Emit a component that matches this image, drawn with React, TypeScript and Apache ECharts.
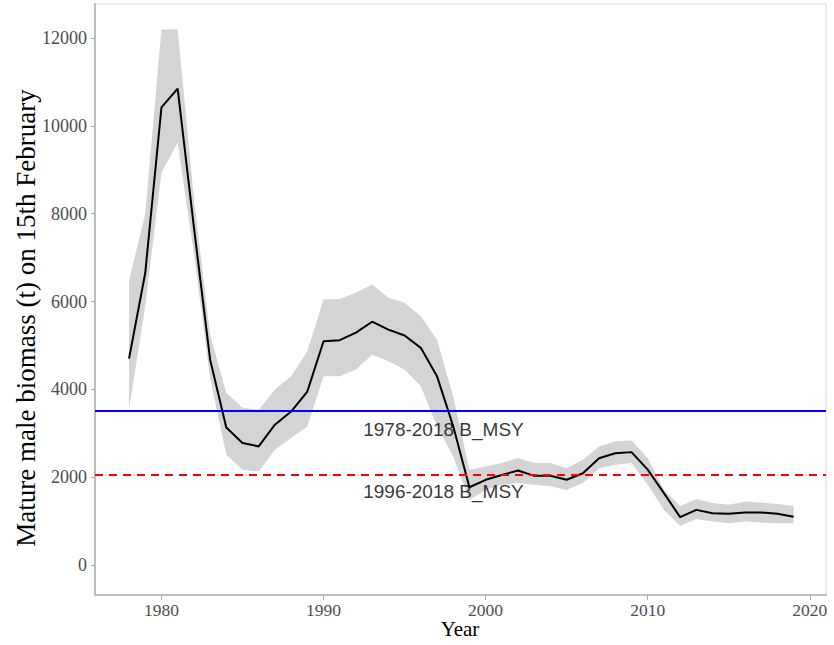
import React, { useEffect, useRef } from "react";
import * as echarts from "echarts";

const years = [1978,1979,1980,1981,1982,1983,1984,1985,1986,1987,1988,1989,1990,1991,1992,1993,1994,1995,1996,1997,1998,1999,2000,2001,2002,2003,2004,2005,2006,2007,2008,2009,2010,2011,2012,2013,2014,2015,2016,2017,2018,2019];
const biomass = [4700,6650,10420,10850,7700,4680,3130,2780,2700,3195,3495,3950,5095,5120,5290,5540,5360,5225,4945,4300,3160,1770,1940,2050,2150,2030,2030,1940,2090,2430,2545,2570,2170,1635,1090,1255,1180,1165,1195,1195,1165,1100];
const lower = [3540,5900,8940,9620,7100,4250,2510,2170,2130,2625,2890,3155,4300,4300,4450,4790,4640,4450,4070,3160,2470,1480,1710,1825,1865,1825,1790,1710,1865,2205,2280,2320,1825,1255,890,1045,990,950,990,965,950,950];
const upper = [6480,8000,12190,12200,8350,5250,3925,3580,3535,3995,4300,4870,6045,6060,6200,6390,6085,5970,5665,5130,3840,2170,2245,2320,2435,2320,2320,2205,2395,2700,2815,2835,2435,1710,1345,1500,1410,1370,1445,1420,1390,1345];
const refValues = [3514, 2065];
const refLabels = ["1978-2018 B_MSY", "1996-2018 B_MSY"];
const refLabelPos = [[1997.4, 3080], [1997.4, 1665]];
const xTicks = [1980, 1990, 2000, 2010, 2020];
const yTicks = [0, 2000, 4000, 6000, 8000, 10000, 12000];
const yTitle = "Mature male biomass (t) on 15th February";
const xTitle = "Year";

export default function App() {
  const ref = useRef<HTMLDivElement>(null);
  useEffect(() => {
    const chart = echarts.init(ref.current!, null, { renderer: "svg" });
    const bandData = years.map((y, i) => [y, lower[i], upper[i]]);
    chart.setOption({
      animation: false,
      backgroundColor: "#fff",
      grid: {
        left: 95, right: 8, top: 4, bottom: 50,
        outerBoundsMode: "none", containLabel: false,
        show: true, borderColor: "#d9d9d9", borderWidth: 1,
      },
      graphic: [
        {
          type: "text",
          x: 26, y: 318,
          rotation: Math.PI / 2,
          style: {
            text: yTitle, align: "center", verticalAlign: "middle",
            fontFamily: "Liberation Serif", fontSize: 27, fill: "#000",
          },
        },
        {
          type: "text",
          x: 460, y: 629,
          style: {
            text: xTitle, align: "center", verticalAlign: "middle",
            fontFamily: "Liberation Serif", fontSize: 21, fill: "#000",
          },
        },
      ],
      xAxis: {
        type: "value", min: 1975.9, max: 2021,
        splitLine: { show: false },
        axisLine: { show: true, onZero: false, lineStyle: { color: "#bdbdbd", width: 2 } },
        axisTick: { show: true, length: 5, customValues: xTicks, lineStyle: { color: "#aaa" } },
        axisLabel: {
          customValues: xTicks, margin: 6, fontFamily: "Liberation Serif", fontSize: 17.5, color: "#4d4d4d",
          formatter: (v: number) => String(v),
        },
      },
      yAxis: {
        type: "value", min: -684, max: 12776,
        splitLine: { show: false },
        axisLine: { show: true, onZero: false, lineStyle: { color: "#bdbdbd", width: 2 } },
        axisTick: { show: true, length: 4, customValues: yTicks, lineStyle: { color: "#aaa" } },
        axisLabel: {
          customValues: yTicks, margin: 8, fontFamily: "Liberation Serif", fontSize: 18, color: "#4d4d4d",
          formatter: (v: number) => String(v),
        },
      },
      series: [
        {
          type: "custom",
          data: bandData,
          silent: true,
          renderItem: (params: any, api: any) => {
            if (params.dataIndex !== 0) return null;
            const top = bandData.map((d) => api.coord([d[0], d[2]]));
            const bot = bandData.slice().reverse().map((d) => api.coord([d[0], d[1]]));
            return {
              type: "polygon",
              shape: { points: top.concat(bot) },
              style: { fill: "#d4d4d4", stroke: "none" },
            };
          },
          z: 1,
        },
        {
          type: "line",
          data: years.map((y, i) => [y, biomass[i]]),
          showSymbol: false,
          lineStyle: { color: "#000", width: 2 },
          z: 3,
          markLine: {
            silent: true,
            symbol: "none",
            label: { show: false },
            data: [
              { yAxis: refValues[0], lineStyle: { color: "#0000ff", width: 2, type: "solid" } },
              { yAxis: refValues[1], lineStyle: { color: "#ff0000", width: 2, type: [8, 6] } },
            ],
          },
        },
        {
          type: "scatter",
          data: refLabelPos.map((p, i) => ({ value: p, name: refLabels[i] })),
          symbolSize: 0,
          z: 4,
          label: {
            show: true, position: "inside", formatter: (p: any) => p.name,
            fontFamily: "Liberation Sans", fontSize: 19, color: "#000", textBorderWidth: 0,
          },
        },
      ],
    });
    return () => chart.dispose();
  }, []);
  return <div ref={ref} style={{ width: 834, height: 645, position: "absolute", left: 0, top: 0 }} />;
}
